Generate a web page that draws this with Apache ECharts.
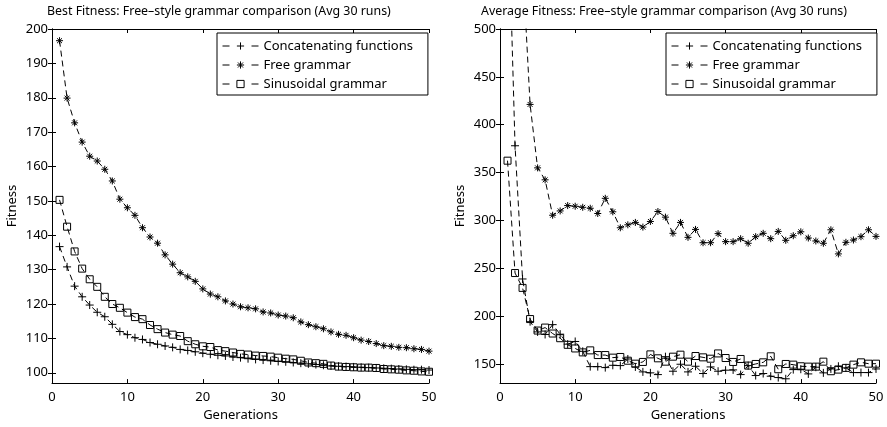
<!DOCTYPE html>
<html>
<head>
<meta charset="utf-8">
<script src="https://cdn.jsdelivr.net/npm/echarts@6/dist/echarts.min.js"></script>
<style>
  html, body { margin: 0; padding: 0; background: #fff; }
  #main { width: 887px; height: 427px; }
</style>
</head>
<body>
<div id="main"></div>
<script>
// generations 1..50
var generations = [];
for (var g = 1; g <= 50; g++) generations.push(g);

var seriesNames = ['Concatenating functions', 'Free grammar', 'Sinusoidal grammar'];

// best fitness (left panel)
var bestConcat = [136.7, 130.8, 125.2, 122.1, 119.7, 117.6, 116.3, 114.1, 112.0, 111.1,
  110.2, 109.7, 108.8, 108.3, 107.8, 107.4, 106.8, 106.5, 106.1, 105.7,
  105.4, 105.1, 104.9, 104.6, 104.4, 104.1, 103.9, 103.7, 103.5, 103.3,
  103.2, 103.0, 102.8, 102.6, 102.4, 102.2, 102.0, 101.9, 101.8, 101.7,
  101.6, 101.5, 101.4, 101.3, 101.2, 101.1, 101.0, 100.9, 100.9, 100.8];
var bestFree = [196.6, 179.9, 172.7, 167.1, 163.0, 161.6, 159.2, 155.8, 150.5, 148.0,
  145.8, 142.2, 139.5, 137.7, 134.3, 131.6, 129.1, 127.9, 126.6, 124.4,
  122.9, 122.1, 120.9, 120.0, 119.2, 118.9, 118.6, 117.7, 117.4, 116.8,
  116.5, 116.0, 114.8, 114.0, 113.4, 112.8, 111.9, 111.2, 110.9, 110.2,
  109.5, 109.1, 108.5, 107.9, 107.7, 107.4, 107.3, 107.0, 106.8, 106.3];
var bestSinus = [150.3, 142.5, 135.3, 130.3, 127.2, 125.0, 122.1, 120.0, 118.9, 117.5,
  116.2, 115.6, 113.9, 112.7, 111.7, 111.1, 110.7, 109.2, 108.3, 107.7,
  107.5, 106.6, 106.3, 105.9, 105.5, 105.3, 105.0, 104.9, 104.7, 104.4,
  104.1, 103.9, 103.5, 103.0, 102.8, 102.6, 102.1, 101.8, 101.7, 101.6,
  101.5, 101.5, 101.4, 101.1, 101.0, 100.9, 100.7, 100.6, 100.4, 100.3];

// average fitness (right panel)
var avgConcat = [655, 378, 238.8, 194.2, 183.5, 180.8, 191.1, 181.1, 170.7, 173.5,
  163.2, 147.2, 147.2, 146.2, 148.6, 148.3, 155.2, 146.9, 141.7, 140.7,
  138.9, 157.6, 142.4, 149.7, 141.7, 147.6, 140.0, 146.9, 142.4, 143.5,
  143.8, 138.9, 148.3, 137.9, 140.0, 137.2, 135.8, 134.5, 144.1, 144.5,
  139.6, 146.6, 140.7, 144.8, 147.6, 145.9, 141.0, 141.0, 141.0, 144.8];
var avgFree = [1150, 820, 570, 421.2, 354.9, 342.4, 305.4, 309.9, 315.5, 314.8,
  313.7, 312.7, 307.2, 323.1, 309.0, 292.3, 295.4, 297.9, 293.0, 298.9,
  309.3, 303.4, 286.5, 297.9, 282.3, 290.6, 276.7, 276.7, 286.2, 277.8,
  277.8, 280.9, 276.1, 283.0, 286.5, 280.9, 288.5, 279.2, 284.0, 288.1,
  281.6, 278.5, 276.1, 290.2, 265.0, 277.1, 279.5, 283.0, 290.2, 283.3];
var avgSinus = [362.4, 245.0, 229.5, 196.9, 184.9, 188.0, 181.8, 176.9, 170.0, 166.2,
  162.1, 164.2, 159.3, 159.3, 156.6, 157.3, 153.4, 150.3, 152.1, 160.0,
  155.9, 152.4, 157.6, 159.7, 152.4, 158.3, 156.9, 155.5, 161.0, 156.2,
  152.1, 155.2, 148.3, 150.0, 151.7, 158.0, 144.5, 150.0, 149.3, 147.6,
  147.2, 147.2, 152.4, 142.4, 144.1, 145.9, 149.3, 151.7, 150.3, 150.3];

// tick labels
var xTicks = [0, 10, 20, 30, 40, 50];
var bestTicks = [100, 110, 120, 130, 140, 150, 160, 170, 180, 190, 200];
var avgTicks = [150, 200, 250, 300, 350, 400, 450, 500];

var FONT = 'Noto Sans';
var PLUS = 'path://M5,0L5,10M0,5L10,5';
var STAR = 'path://M5,0L5,10M0,5L10,5M1.5,1.5L8.5,8.5M8.5,1.5L1.5,8.5';
var SQUARE = 'path://M0,0L10,0L10,10L0,10Z';
var symbols = [PLUS, STAR, SQUARE];
var symbolSizes = [8, 7, 7];

function pairs(vals) {
  return generations.map(function (g, i) { return [g, vals[i]]; });
}

function makeSeries(name, idx, vals, axisIdx) {
  return {
    name: name,
    type: 'line',
    xAxisIndex: axisIdx,
    yAxisIndex: axisIdx,
    data: pairs(vals),
    symbol: symbols[idx],
    symbolSize: symbolSizes[idx],
    showAllSymbol: true,
    clip: true,
    lineStyle: { color: '#000', width: 1, type: [6, 4] },
    itemStyle: { color: 'rgba(0,0,0,0)', borderColor: '#000', borderWidth: 1 }
  };
}

function xAxes(grid) {
  var base = {
    type: 'value', gridIndex: grid, min: 0, max: 50, interval: 10,
    axisLine: { lineStyle: { color: '#000', width: 1 } },
    axisTick: { inside: true, length: 4, customValues: xTicks, lineStyle: { color: '#000' } },
    splitLine: { show: false }
  };
  return [
    Object.assign({}, base, {
      position: 'bottom',
      name: 'Generations', nameLocation: 'middle', nameGap: 24,
      nameTextStyle: { fontFamily: FONT, fontSize: 13, color: '#000' },
      axisLabel: { fontFamily: FONT, fontSize: 13, color: '#000', margin: 8, customValues: xTicks }
    }),
    Object.assign({}, base, { position: 'top', axisLabel: { show: false } })
  ];
}

function yAxes(grid, min, max, ticks) {
  var base = {
    type: 'value', gridIndex: grid, min: min, max: max,
    axisLine: { show: true, lineStyle: { color: '#000', width: 1 } },
    axisTick: { show: true, inside: true, length: 4, customValues: ticks, lineStyle: { color: '#000' } },
    splitLine: { show: false }
  };
  return [
    Object.assign({}, base, {
      position: 'left',
      name: 'Fitness', nameLocation: 'middle', nameGap: 33,
      nameTextStyle: { fontFamily: FONT, fontSize: 13, color: '#000' },
      axisLabel: { fontFamily: FONT, fontSize: 13, color: '#000', margin: 4, customValues: ticks }
    }),
    Object.assign({}, base, { position: 'right', axisLabel: { show: false } })
  ];
}

function legendFor(left) {
  return {
    orient: 'vertical',
    left: left, top: 33,
    data: seriesNames,
    itemWidth: 36, itemHeight: 9,
    itemGap: 3,
    selectedMode: false,
    lineStyle: { type: [7, 22], width: 1 },
    itemStyle: { borderWidth: 1 },
    backgroundColor: '#fff',
    borderColor: '#000', borderWidth: 1, borderRadius: 0,
    padding: [5, 15, 3, 5],
    textStyle: { fontFamily: FONT, fontSize: 13, color: '#000', lineHeight: 16 }
  };
}

var option = {
  animation: false,
  backgroundColor: '#fff',
  title: [
    { text: 'Best Fitness: Free\u2013style grammar comparison (Avg 30 runs)', left: 47, top: 5, padding: 0,
      textStyle: { fontFamily: FONT, fontSize: 12.4, fontWeight: 'normal', color: '#000' } },
    { text: 'Average Fitness: Free\u2013style grammar comparison (Avg 30 runs)', left: 481, top: 5, padding: 0,
      textStyle: { fontFamily: FONT, fontSize: 12.4, fontWeight: 'normal', color: '#000' } }
  ],
  legend: [legendFor(217), legendFor(666)],
  grid: [
    { left: 52, right: 458, top: 29, bottom: 42 },
    { left: 500, right: 11, top: 29, bottom: 42 }
  ],
  xAxis: xAxes(0).concat(xAxes(1)),
  yAxis: yAxes(0, 97, 200, bestTicks).concat(yAxes(1, 130, 500, avgTicks)),
  series: [
    makeSeries(seriesNames[0], 0, bestConcat, 0),
    makeSeries(seriesNames[1], 1, bestFree, 0),
    makeSeries(seriesNames[2], 2, bestSinus, 0),
    makeSeries(seriesNames[0], 0, avgConcat, 2),
    makeSeries(seriesNames[1], 1, avgFree, 2),
    makeSeries(seriesNames[2], 2, avgSinus, 2)
  ]
};

// top/right axes (index 1 and 3) only carry the inward box ticks
var myChart = echarts.init(document.getElementById('main'));
myChart.setOption(option);
</script>
</body>
</html>
